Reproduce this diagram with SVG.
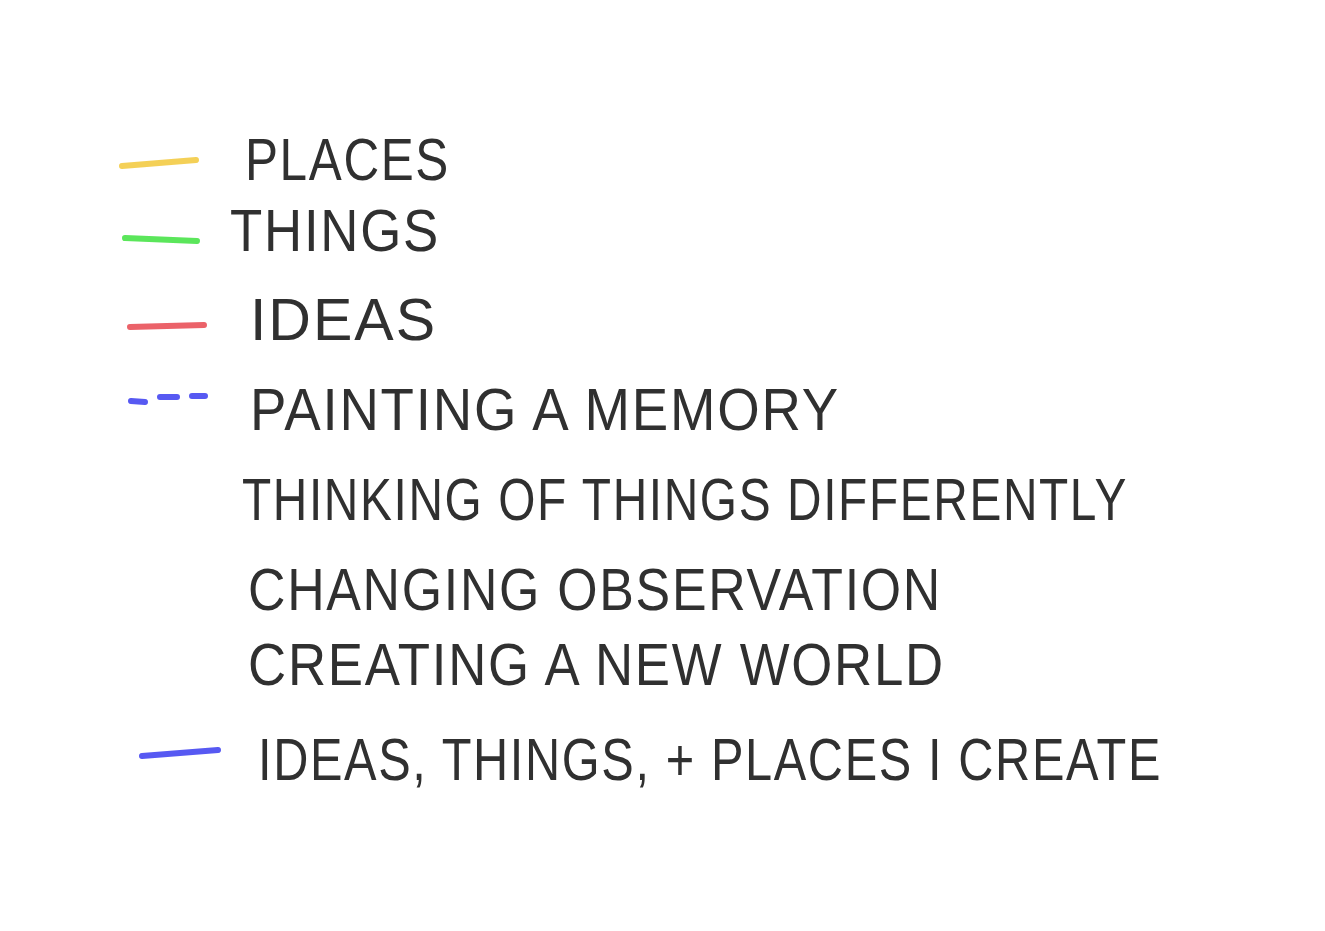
<svg xmlns="http://www.w3.org/2000/svg" width="1325" height="931" viewBox="0 0 1325 931">
<style>
.t{font-family:"Liberation Sans","DejaVu Sans",sans-serif;font-size:60px;fill:#303030;letter-spacing:2px}
.ln{fill:none;stroke-width:6;stroke-linecap:round;opacity:0.85}
</style>
<rect width="1325" height="931" fill="#ffffff"/>
<g id="connectors">
<path class="ln" d="M122 166 L196 160" stroke="#f2c83a"/>
<path class="ln" d="M125 238 L197 241" stroke="#3ee23e"/>
<path class="ln" d="M130 327 L204 325" stroke="#e8474f"/>
<path class="ln" d="M131 401 L145 402 M160 397 L177 397 M192 396 L205 396" stroke="#3a3cf0"/>
<path class="ln" d="M142 756 L218 750" stroke="#3a3cf0"/>
</g>
<g id="legend-places"><text class="t" x="245" y="180" textLength="205" lengthAdjust="spacingAndGlyphs">PLACES</text></g>
<g id="legend-things"><text class="t" x="230" y="251" textLength="210" lengthAdjust="spacingAndGlyphs">THINGS</text></g>
<g id="legend-ideas"><text class="t" x="250" y="340" textLength="187" lengthAdjust="spacingAndGlyphs">IDEAS</text></g>
<g id="legend-painting"><text class="t" x="250" y="430" textLength="590" lengthAdjust="spacingAndGlyphs">PAINTING A MEMORY</text></g>
<g id="legend-thinking"><text class="t" x="242" y="520" textLength="886" lengthAdjust="spacingAndGlyphs">THINKING OF THINGS  DIFFERENTLY</text></g>
<g id="legend-changing"><text class="t" x="248" y="610" textLength="694" lengthAdjust="spacingAndGlyphs">CHANGING  OBSERVATION</text></g>
<g id="legend-creating"><text class="t" x="248" y="685" textLength="697" lengthAdjust="spacingAndGlyphs">CREATING A NEW WORLD</text></g>
<g id="legend-create"><text class="t" x="258" y="780" textLength="904" lengthAdjust="spacingAndGlyphs">IDEAS, THINGS, + PLACES I CREATE</text></g>
</svg>
